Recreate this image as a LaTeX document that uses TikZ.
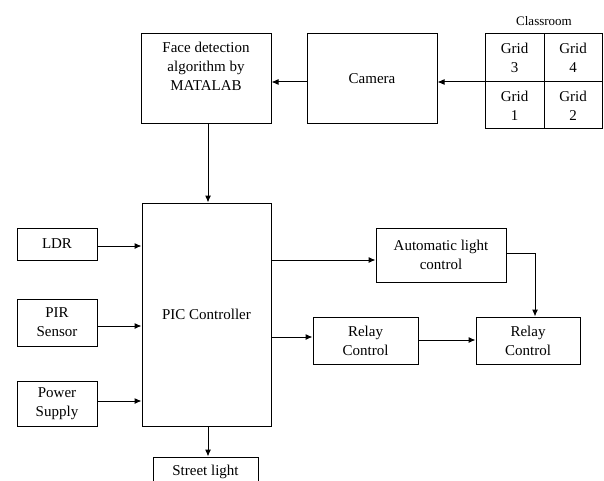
\documentclass[tikz,border=0pt]{standalone}
\usepackage{fontspec}
\setmainfont{Liberation Serif}
\usetikzlibrary{arrows.meta}
\begin{document}
\begin{tikzpicture}[x=1pt,y=-1pt,
  box/.style={draw, line width=1pt, inner sep=0pt, align=center, font=\fontsize{15}{19}\selectfont},
  txt/.style={inner sep=0pt, align=center, font=\fontsize{15}{19}\selectfont},
  arr/.style={line width=1pt, -{Latex[length=7pt,width=6pt]}},
  ln/.style={line width=1pt}]
\useasboundingbox (0,0) rectangle (604,481);
\clip (0,0) rectangle (604,481);
% top row
\node[box, minimum width=130pt, minimum height=90pt] (face) at (206,79) {Face detection\\algorithm by\\MATALAB\\\strut};
\node[box, minimum width=130pt, minimum height=90pt] (camera) at (372,79) {Camera};
% classroom grid
\node[txt] (classroom) at (544,21) {\fontsize{13}{16}\selectfont Classroom};
\node[box, minimum width=59pt, minimum height=48pt] (g3) at (514.5,58) {Grid\\3};
\node[box, minimum width=58pt, minimum height=48pt] (g4) at (573,58) {Grid\\4};
\node[box, minimum width=59pt, minimum height=47pt] (g1) at (514.5,105.5) {Grid\\1};
\node[box, minimum width=58pt, minimum height=47pt] (g2) at (573,105.5) {Grid\\2};
\coordinate (gridw) at (485,82);
% controller and inputs
\node[box, minimum width=129pt, minimum height=223pt] (pic) at (206.5,314.5) {PIC Controller};
\node[box, minimum width=80pt, minimum height=32pt] (ldr) at (57,244) {LDR};
\node[box, minimum width=80pt, minimum height=47pt] (pir) at (57,322.5) {PIR\\Sensor};
\node[box, minimum width=80pt, minimum height=45pt] (power) at (57,403.5) {Power\\Supply};
% outputs
\node[box, minimum width=130pt, minimum height=54pt] (auto) at (441,255) {Automatic light\\control};
\node[box, minimum width=105pt, minimum height=47pt] (relay1) at (365.5,340.5) {Relay\\Control};
\node[box, minimum width=104pt, minimum height=47pt] (relay2) at (528,340.5) {Relay\\Control};
\node[box, minimum width=105pt, minimum height=40pt, text depth=0pt] (street) at (205.5,477) {};
\node[txt] (streettxt) at (205.5,472) {Street light};
% connectors
\draw[arr] (gridw) -- (camera.east |- gridw);
\draw[arr] (camera.west |- 0,82) -- (face.east |- 0,82);
\draw[arr] (face.south -| 208,0) -- (pic.north -| 208,0);
\draw[arr] (ldr.east |- 0,246) -- (pic.west |- 0,246);
\draw[arr] (pir.east |- 0,326) -- (pic.west |- 0,326);
\draw[arr] (power.east |- 0,401) -- (pic.west |- 0,401);
\draw[arr] (pic.east |- 0,260) -- (auto.west |- 0,260);
\draw[arr] (pic.east |- 0,337) -- (relay1.west |- 0,337);
\draw[arr] (relay1.east |- 0,340) -- (relay2.west |- 0,340);
\draw[arr] (auto.east |- 0,253) -| (relay2.north -| 535,0);
\draw[arr] (pic.south -| 208,0) -- (street.north -| 208,0);
\end{tikzpicture}
\end{document}
